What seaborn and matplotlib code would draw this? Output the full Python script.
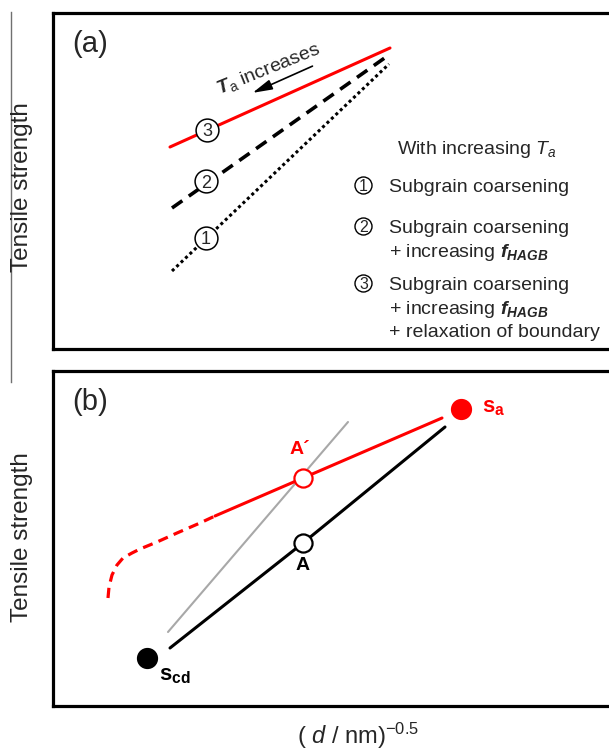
import matplotlib
matplotlib.use("Agg")
import matplotlib.pyplot as plt
import seaborn as sns

# schematic values (arbitrary units: x ~ (d/nm)^-0.5, y ~ tensile strength)
# panel (a)
red_x = [170, 390]
red_y = [202, 301]
dash_x = [172, 386]
dash_y = [141, 292]
dot_x = [172, 389]
dot_y = [78, 285]
num_x = [206, 206, 207]
num_y = [111, 168, 219]
num_labels = ["1", "2", "3"]
arrow_from = (315, 284)
arrow_to = (250, 255)

# panel (b)
black_x = [170, 303, 445]
black_y = [58, 163, 279]
gray_x = [168, 348]
gray_y = [74, 284]
red_solid_x = [215, 303, 442]
red_solid_y = [190, 228, 288]
red_dash_x = [108, 109, 112, 117, 123, 132, 140, 157, 177, 200, 215]
red_dash_y = [108, 119, 131, 141, 148, 153, 157, 164, 173, 183, 190]
scd_pt = (147, 48)
sa_pt = (461, 297)
A_pt = (303, 163)
Ap_pt = (303, 228)

sns.set_style("white")
plt.rcParams["font.family"] = ["Liberation Sans", "DejaVu Sans"]
plt.rcParams["mathtext.fontset"] = "custom"
plt.rcParams["mathtext.rm"] = "Liberation Sans"
plt.rcParams["mathtext.it"] = "Liberation Sans:italic"
plt.rcParams["mathtext.bf"] = "Liberation Sans:bold"
plt.rcParams["mathtext.bfit"] = "Liberation Sans:italic:bold"

W, H = 609, 754
fig = plt.figure(figsize=(W / 100, H / 100), dpi=100)

def make_panel(top_px, bottom_px):
    ax = fig.add_axes([53 / W, (H - bottom_px) / H, (640 - 53) / W, (bottom_px - top_px) / H])
    ax.set_xlim(53, 640)
    ax.set_ylim(0, bottom_px - top_px)
    ax.set_xticks([])
    ax.set_yticks([])
    for side in ["left", "top", "bottom"]:
        ax.spines[side].set_linewidth(2.3)
        ax.spines[side].set_color("black")
    ax.spines["right"].set_visible(False)
    return ax

ax1 = make_panel(13, 349)
ax2 = make_panel(371, 706)

# stray frame line at the far left
edge = fig.add_axes([11 / W, (H - 382) / H, 0.0001, 370 / H])
edge.set_xticks([])
edge.set_yticks([])
for side in ["right", "top", "bottom"]:
    edge.spines[side].set_visible(False)
edge.spines["left"].set_color("#707070")
edge.spines["left"].set_linewidth(1.0)
edge.patch.set_visible(False)

# ---------------- panel (a)
sns.lineplot(x=red_x, y=red_y, ax=ax1, color="#ff0000", lw=2.2, sort=False, estimator=None)
sns.lineplot(x=dash_x, y=dash_y, ax=ax1, color="black", lw=2.6, sort=False, estimator=None,
             linestyle=(0, (3.5, 2.2)))
sns.lineplot(x=dot_x, y=dot_y, ax=ax1, color="black", lw=2.2, sort=False, estimator=None,
             linestyle=(0, (1, 1)))
sns.scatterplot(x=num_x, y=num_y, ax=ax1, s=270, color="white", edgecolor="black",
                linewidth=1.1, zorder=5)
for x, y, t in zip(num_x, num_y, num_labels):
    ax1.text(x, y, t, ha="center", va="center_baseline", fontsize=13, zorder=6)

ax1.annotate("", xy=arrow_to, xytext=arrow_from,
             arrowprops=dict(arrowstyle="-|>,head_length=0.85,head_width=0.22",
                             color="black", lw=1.2, mutation_scale=14))
ax1.text(268, 280, r"$\mathbfit{T}_{\mathrm{a}}$ increases", rotation=22,
         rotation_mode="anchor", ha="center", va="center", fontsize=14)
ax1.text(72, 305, "(a)", fontsize=21, ha="left", va="center")

# legend text on the right
ax1.text(477, 349 - 154, r"With increasing $T_a$", ha="center", va="baseline", fontsize=14)
leg_circ_x = [363, 363, 363]
leg_circ_y = [349 - 185, 349 - 226, 349 - 283]
sns.scatterplot(x=leg_circ_x, y=leg_circ_y, ax=ax1, s=150, color="white", edgecolor="black",
                linewidth=1.0, zorder=5)
for x, y, t in zip(leg_circ_x, leg_circ_y, num_labels):
    ax1.text(x + 0.5, y, t, ha="center", va="center_baseline", fontsize=11.5, zorder=6)
fhagb = r"+ increasing $\mathbfit{f}_{\mathbfit{HAGB}}$"
leg_text = [("Subgrain coarsening", 192), ("Subgrain coarsening", 233), (fhagb, 257),
            ("Subgrain coarsening", 290), (fhagb, 314), ("+ relaxation of boundary", 337)]
for t, ypx in leg_text:
    ax1.text(389, 349 - ypx, t, ha="left", va="baseline", fontsize=14)

# ---------------- panel (b)
sns.lineplot(x=gray_x, y=gray_y, ax=ax2, color="#a8a8a8", lw=1.5, sort=False, estimator=None)
sns.lineplot(x=black_x, y=black_y, ax=ax2, color="black", lw=2.2, sort=False, estimator=None)
sns.lineplot(x=red_solid_x, y=red_solid_y, ax=ax2, color="#ff0000", lw=2.2, sort=False,
             estimator=None)
sns.lineplot(x=red_dash_x, y=red_dash_y, ax=ax2, color="#ff0000", lw=2.3, sort=False,
             estimator=None, linestyle=(0, (3.2, 2.0)))
sns.scatterplot(x=[scd_pt[0]], y=[scd_pt[1]], ax=ax2, s=200, color="black", edgecolor="black",
                zorder=5)
sns.scatterplot(x=[sa_pt[0]], y=[sa_pt[1]], ax=ax2, s=200, color="#ff0000", edgecolor="#ff0000",
                zorder=5)
sns.scatterplot(x=[A_pt[0]], y=[A_pt[1]], ax=ax2, s=170, color="white", edgecolor="black",
                linewidth=1.6, zorder=5)
sns.scatterplot(x=[Ap_pt[0]], y=[Ap_pt[1]], ax=ax2, s=170, color="white", edgecolor="#ff0000",
                linewidth=1.6, zorder=5)

ax2.text(300, 256, "A\u00b4", color="#ff0000", fontsize=14, fontweight="bold",
         ha="center", va="center")
ax2.text(303, 141, "A", color="black", fontsize=14, fontweight="bold", ha="center", va="center")
ax2.text(482, 299, r"$\mathbf{s}_{\mathbf{a}}$", color="#ff0000", fontsize=16,
         ha="left", va="center")
ax2.text(159, 31, r"$\mathbf{s}_{\mathbf{cd}}$", color="black", fontsize=16,
         ha="left", va="center")
ax2.text(72, 304, "(b)", fontsize=21, ha="left", va="center")

# axis titles
fig.text(22 / W, 1 - 187 / H, "Tensile strength", rotation=90, ha="center", va="center",
         fontsize=17.5)
fig.text(22 / W, 1 - 537 / H, "Tensile strength", rotation=90, ha="center", va="center",
         fontsize=17.5)
fig.text(358 / W, 1 - 736 / H, r"( $d$ / nm)$^{\mathrm{-0.5}}$", ha="center", va="center",
         fontsize=17)

fig.savefig("out.png", dpi=100)
